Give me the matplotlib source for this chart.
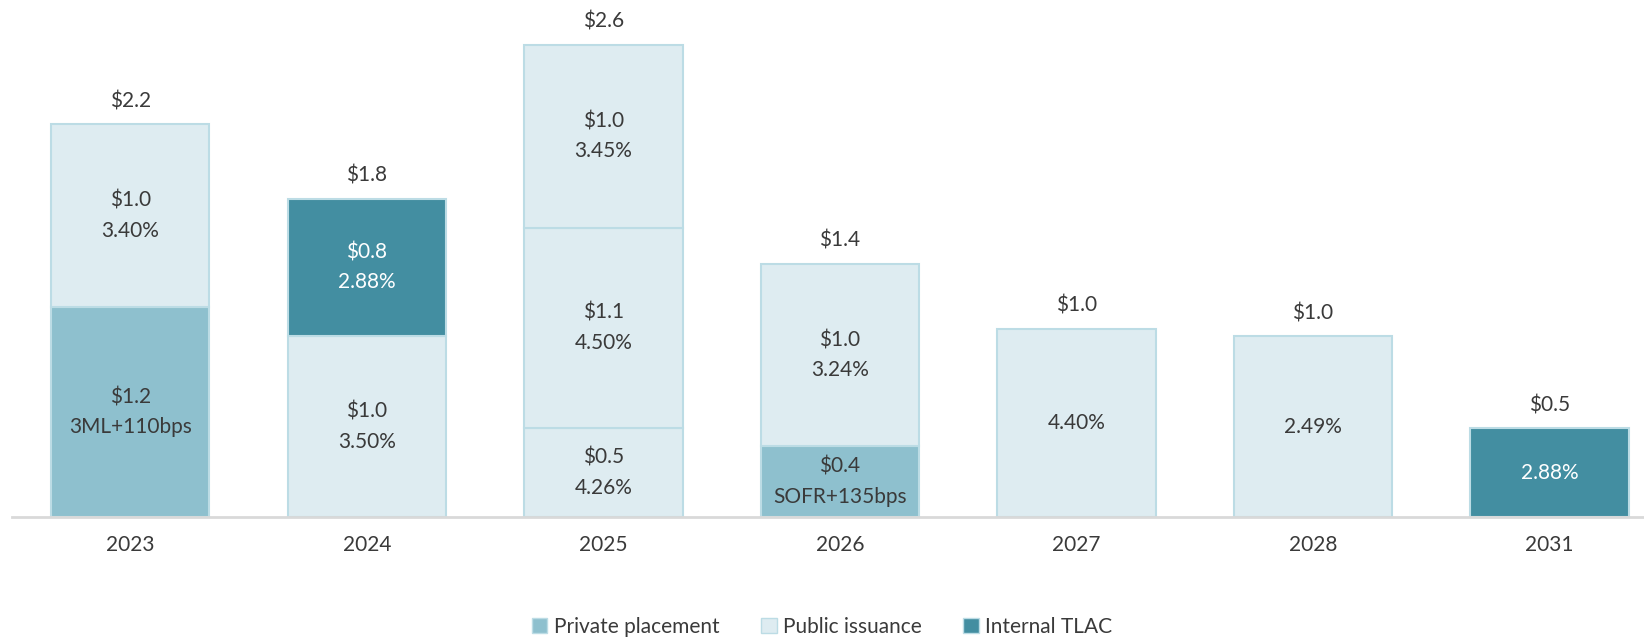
import matplotlib
matplotlib.use("Agg")
import matplotlib.pyplot as plt
from matplotlib.patches import Patch
import numpy as np

plt.rcParams['font.family'] = ['Lato', 'DejaVu Sans']

years = ["2023", "2024", "2025", "2026", "2027", "2028", "2031"]

# segments: (year index, series, value, rate label, show dollar label)
seg_year = [0, 0, 1, 1, 2, 2, 2, 3, 3, 4, 5, 6]
seg_series = ["Private placement", "Public issuance",
              "Public issuance", "Internal TLAC",
              "Public issuance", "Public issuance", "Public issuance",
              "Private placement", "Public issuance",
              "Public issuance", "Public issuance", "Internal TLAC"]
seg_value = [1.16, 1.01, 1.00, 0.76, 0.49, 1.11, 1.01, 0.39, 1.01, 1.04, 1.00, 0.49]
seg_rate = ["3ML+110bps", "3.40%", "3.50%", "2.88%", "4.26%", "4.50%", "3.45%",
            "SOFR+135bps", "3.24%", "4.40%", "2.49%", "2.88%"]
seg_show_amount = [True, True, True, True, True, True, True, True, True, False, False, False]

series_names = ["Private placement", "Public issuance", "Internal TLAC"]
series_colors = {"Private placement": "#8EC0CE",
                 "Public issuance": "#DEECF1",
                 "Internal TLAC": "#438EA1"}
text_colors = {"Private placement": "#3A3A3A",
               "Public issuance": "#3A3A3A",
               "Internal TLAC": "#FFFFFF"}
edge_color = "#BCDCE5"

fig = plt.figure(figsize=(16.44, 6.38), dpi=100)
H = 638
ax = fig.add_axes([12 / 1644, (638 - 517) / H, 1 - 12 / 1644, 517 / H])

x = np.arange(len(years))
bottoms = np.zeros(len(years))
width = 0.67
fs = 15

for yi, s, v, r, show in zip(seg_year, seg_series, seg_value, seg_rate, seg_show_amount):
    ax.bar(x[yi], v, width, bottom=bottoms[yi], color=series_colors[s],
           edgecolor=edge_color, linewidth=1.5, zorder=2)
    mid = bottoms[yi] + v / 2
    label = (f"${v:.1f}\n{r}" if show else r)
    ax.text(x[yi], mid, label, ha="center", va="center", fontsize=fs,
            color=text_colors[s], linespacing=1.62, zorder=3)
    bottoms[yi] += v

for xi, tot in zip(x, bottoms):
    ax.annotate(f"${tot:.1f}", (xi, tot), xytext=(0, 23), textcoords="offset pixels",
                ha="center", va="center", fontsize=fs, color="#3A3A3A")

ax.set_xlim(-0.5, 6.4)
ax.set_ylim(0, 517 / 180.9)
ax.set_xticks(x)
ax.set_xticklabels(years, fontsize=fs, color="#3A3A3A")
ax.tick_params(axis="x", length=0, pad=13)
ax.set_yticks([])
for sp in ["top", "left", "right"]:
    ax.spines[sp].set_visible(False)
ax.spines["bottom"].set_color("#D9D9D9")
ax.spines["bottom"].set_linewidth(2)
ax.spines["bottom"].set_zorder(4)

handles = [Patch(facecolor=series_colors[n], edgecolor=edge_color, linewidth=1.0, label=n)
           for n in series_names]
leg = fig.legend(handles=handles, loc="center", bbox_to_anchor=(0.5, 1 - 627 / H),
                 ncol=3, frameon=False, fontsize=fs, handlelength=0.75, handleheight=0.75,
                 handletextpad=0.3, columnspacing=2.0)
for t in leg.get_texts():
    t.set_color("#3A3A3A")

fig.savefig("out.png", dpi=100)
